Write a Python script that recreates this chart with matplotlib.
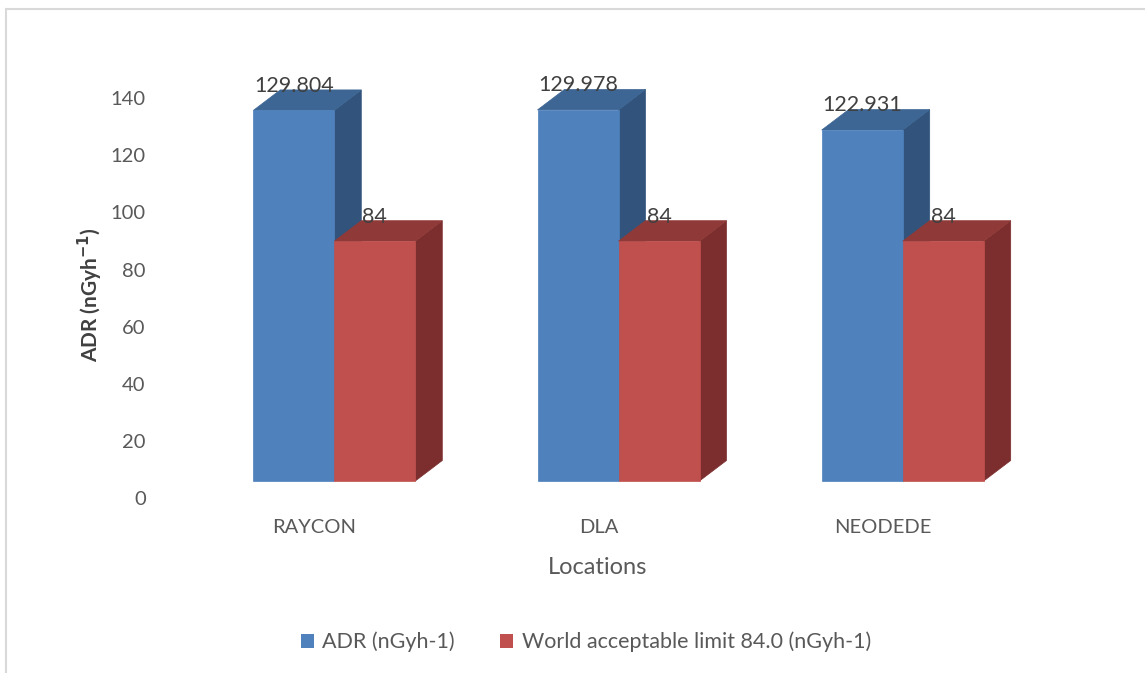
import matplotlib
matplotlib.use("Agg")
import matplotlib.pyplot as plt
from matplotlib.patches import Polygon, Rectangle, Patch

plt.rcParams['font.family'] = ['Lato', 'DejaVu Sans']

locations = ["RAYCON", "DLA", "NEODEDE"]
adr = [129.804, 129.978, 122.931]
limit = [84, 84, 84]
series_names = ["ADR (nGyh-1)", "World acceptable limit 84.0 (nGyh-1)"]
yticks = [0, 20, 40, 60, 80, 100, 120, 140]

# face colours: front, top, side
blue = ("#4F81BD", "#3D6694", "#32547C")
red = ("#C0504D", "#8F3A38", "#7B2E2D")

W, H = 1145, 673
fig = plt.figure(figsize=(W / 100, H / 100), dpi=100)

# pixel layout of the plotting area
px_per_unit = 2.855          # vertical pixels per value unit
zero_px = 498                # row of the 0 tick
x0_px = 334.3                # centre of the first group
group_px = 284.2             # spacing between groups
ylo, yhi = -10, 150
xlo, xhi = -0.6, 2.7

ax_left = x0_px + xlo * group_px
ax_right = x0_px + xhi * group_px
ax_bottom = zero_px - ylo * px_per_unit
ax_top = zero_px - yhi * px_per_unit
ax = fig.add_axes([ax_left / W, 1 - ax_bottom / H,
                   (ax_right - ax_left) / W, (ax_bottom - ax_top) / H])
ax.set_xlim(xlo, xhi)
ax.set_ylim(ylo, yhi)
for s in ax.spines.values():
    s.set_visible(False)
ax.set_xticks([])
ax.set_yticks(yticks)
ax.tick_params(axis='y', length=0, pad=13, labelsize=14.5, labelcolor="#595959")

bar_w = 81 / group_px        # front face width
dx = 27 / group_px           # depth offset, x
dy = 20.5 / px_per_unit      # depth offset, y
base = 17 / px_per_unit      # front face floor sits above the zero row


def box(left, value, cols):
    bottom = base
    top = base + value
    right = left + bar_w
    ax.add_patch(Polygon([(right, bottom), (right + dx, bottom + dy),
                          (right + dx, top + dy), (right, top)],
                         closed=True, fc=cols[2], ec=cols[2], lw=0.5))
    ax.add_patch(Polygon([(left, top), (left + dx, top + dy),
                          (right + dx, top + dy), (right, top)],
                         closed=True, fc=cols[1], ec=cols[1], lw=0.5))
    ax.add_patch(Rectangle((left, bottom), bar_w, value,
                           fc=cols[0], ec=cols[0], lw=0.5))
    ax.text(left + bar_w / 2, top + 8.6, f"{value:g}", ha="center",
            va="center", fontsize=15.5, color="#404040")


for i, name in enumerate(locations):
    box(i - bar_w, adr[i], blue)
    box(i, limit[i], red)
    ax.text(i - 20 / group_px, -10.5, name, ha="center", va="center",
            fontsize=14.5, color="#595959")

fig.text(90 / W, 1 - 295 / H, "ADR (nGyh$^{\\mathbf{-1}}$)", rotation=90,
         ha="center", va="center", fontsize=15, fontweight="bold",
         color="#404040")
fig.text(598 / W, 1 - 567 / H, "Locations", ha="center", va="center",
         fontsize=17, color="#595959")

handles = [Patch(fc=blue[0]), Patch(fc=red[0])]
fig.legend(handles, series_names, loc="center", ncol=2,
           bbox_to_anchor=(586 / W, 1 - 642 / H), frameon=False,
           fontsize=15.5, labelcolor="#595959", handlelength=0.6,
           handleheight=0.6, handletextpad=0.4, columnspacing=2.1)

# chart area border (runs off the right and bottom edges)
fig.add_artist(Rectangle((6 / W, -0.1), 1.2, 1 - 9 / H + 0.1,
                         transform=fig.transFigure, fill=False,
                         ec="#D9D9D9", lw=1.5))

fig.savefig("out.png", dpi=100)
